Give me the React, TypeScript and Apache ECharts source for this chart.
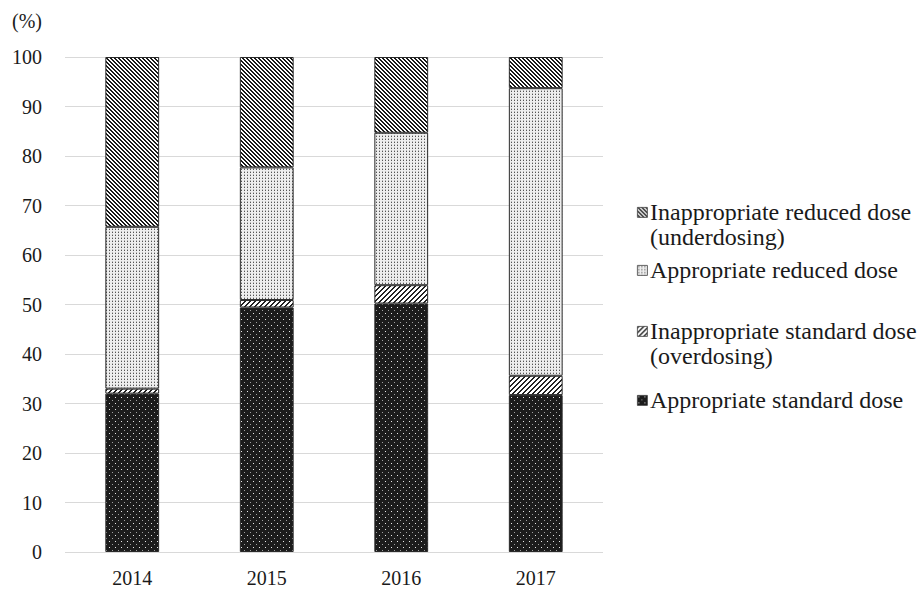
import React, { useEffect, useRef } from "react";
import * as echarts from "echarts";

// ---------- data ----------
const years = ["2014", "2015", "2016", "2017"];
const appropriateStandard = [32.0, 49.4, 50.2, 31.7];
const inappropriateStandard = [1.0, 1.5, 3.7, 3.9];
const appropriateReduced = [32.7, 26.8, 30.8, 58.1];
const inappropriateReduced = [34.3, 22.3, 15.3, 6.3];

const seriesNames = [
  "Appropriate standard dose",
  "Inappropriate standard dose (overdosing)",
  "Appropriate reduced dose",
  "Inappropriate reduced dose (underdosing)",
];
// legend entries, top to bottom (index into seriesNames), with line breaks
const legendOrder = [3, 2, 1, 0];
const legendLines = [
  ["Inappropriate reduced dose", "(underdosing)"],
  ["Appropriate reduced dose"],
  ["Inappropriate standard dose", "(overdosing)"],
  ["Appropriate standard dose"],
];

// ---------- styles ----------
const FONT = "'Liberation Serif', 'Times New Roman', serif";
const legendFirstLineY = [212, 270, 331, 400];
const legendIconX = 637;
const legendTextX = 650;
const legendFontSize = 24;
const legendLineHeight = 25;

type Px = [number, number, string];
function tile(size: number, bg: string, pixels: Px[]) {
  const c = document.createElement("canvas");
  c.width = size;
  c.height = size;
  const ctx = c.getContext("2d")!;
  ctx.fillStyle = bg;
  ctx.fillRect(0, 0, size, size);
  for (const [x, y, col] of pixels) {
    ctx.fillStyle = col;
    ctx.fillRect(x, y, 1, 1);
  }
  return { image: c, repeat: "repeat", imageWidth: size, imageHeight: size } as any;
}

function makePatterns() {
  // appropriate standard: dark with light dots
  const p0 = tile(6, "#1c1c1c", [
    [1, 1, "#e8e8e8"],
    [4, 4, "#a0a0a0"],
  ]);
  // overdosing: "/" stripes
  const px1: Px[] = [];
  for (let x = 0; x < 5; x++)
    for (let y = 0; y < 5; y++) if ((x + y) % 5 === 0 || (x + y) % 5 === 1) px1.push([x, y, "#222"]);
  const p1 = tile(5, "#ffffff", px1);
  // appropriate reduced: light grey dotted
  const p2 = tile(3, "#eeeeee", [
    [1, 1, "#555555"],
    [1, 0, "#b8b8b8"],
  ]);
  // underdosing: "\" stripes
  const px3: Px[] = [];
  for (let x = 0; x < 4; x++)
    for (let y = 0; y < 4; y++) {
      const d = (((x - y) % 4) + 4) % 4;
      if (d === 0 || d === 1) px3.push([x, y, "#1a1a1a"]);
    }
  const p3 = tile(4, "#ffffff", px3);
  return [p0, p1, p2, p3];
}

export default function App() {
  const ref = useRef<HTMLDivElement>(null);

  useEffect(() => {
    if (!ref.current) return;
    const chart = echarts.init(ref.current, undefined, { renderer: "svg" });
    const patterns = makePatterns();
    const values = [appropriateStandard, inappropriateStandard, appropriateReduced, inappropriateReduced];

    const graphics: any[] = [];
    legendOrder.forEach((si, i) => {
      const y = legendFirstLineY[i];
      graphics.push({
        type: "rect",
        left: legendIconX,
        top: y - 5,
        shape: { x: 0, y: 0, width: 10, height: 10 },
        style: { fill: patterns[si], stroke: "#404040", lineWidth: 0.8 },
      });
      graphics.push({
        type: "text",
        left: legendTextX,
        top: y - legendLineHeight / 2,
        style: {
          text: legendLines[i].join("\n"),
          fontFamily: FONT,
          fontSize: legendFontSize,
          lineHeight: legendLineHeight,
          fill: "#1a1a1a",
        },
      });
    });

    chart.setOption({
      animation: false,
      backgroundColor: "#ffffff",
      grid: { left: 65, right: 319, top: 57, bottom: 37, containLabel: false },
      xAxis: {
        type: "category",
        data: years,
        axisLine: { show: false },
        axisTick: { show: false },
        axisLabel: { color: "#1a1a1a", fontFamily: FONT, fontSize: 20, margin: 16 },
      },
      yAxis: {
        type: "value",
        min: 0,
        max: 100,
        interval: 10,
        name: "(%)",
        nameLocation: "end",
        nameGap: 36,
        nameTextStyle: {
          color: "#1a1a1a",
          fontFamily: FONT,
          fontSize: 20,
          align: "right",
          verticalAlign: "middle",
          padding: [0, 23, 0, 0],
        },
        axisLine: { show: false },
        axisTick: { show: false },
        axisLabel: { color: "#1a1a1a", fontFamily: FONT, fontSize: 20, margin: 23 },
        splitLine: { lineStyle: { color: "#d9d9d9", width: 1 } },
      },
      series: seriesNames.map((name, i) => ({
        name,
        type: "bar",
        stack: "total",
        barWidth: "40%",
        data: values[i],
        itemStyle: { color: patterns[i], borderColor: "#2a2a2a", borderWidth: 1 },
      })),
      graphic: graphics,
    });

    return () => chart.dispose();
  }, []);

  return (
    <div
      ref={ref}
      style={{ position: "fixed", left: 0, top: 0, width: 922, height: 589, background: "#fff" }}
    />
  );
}
